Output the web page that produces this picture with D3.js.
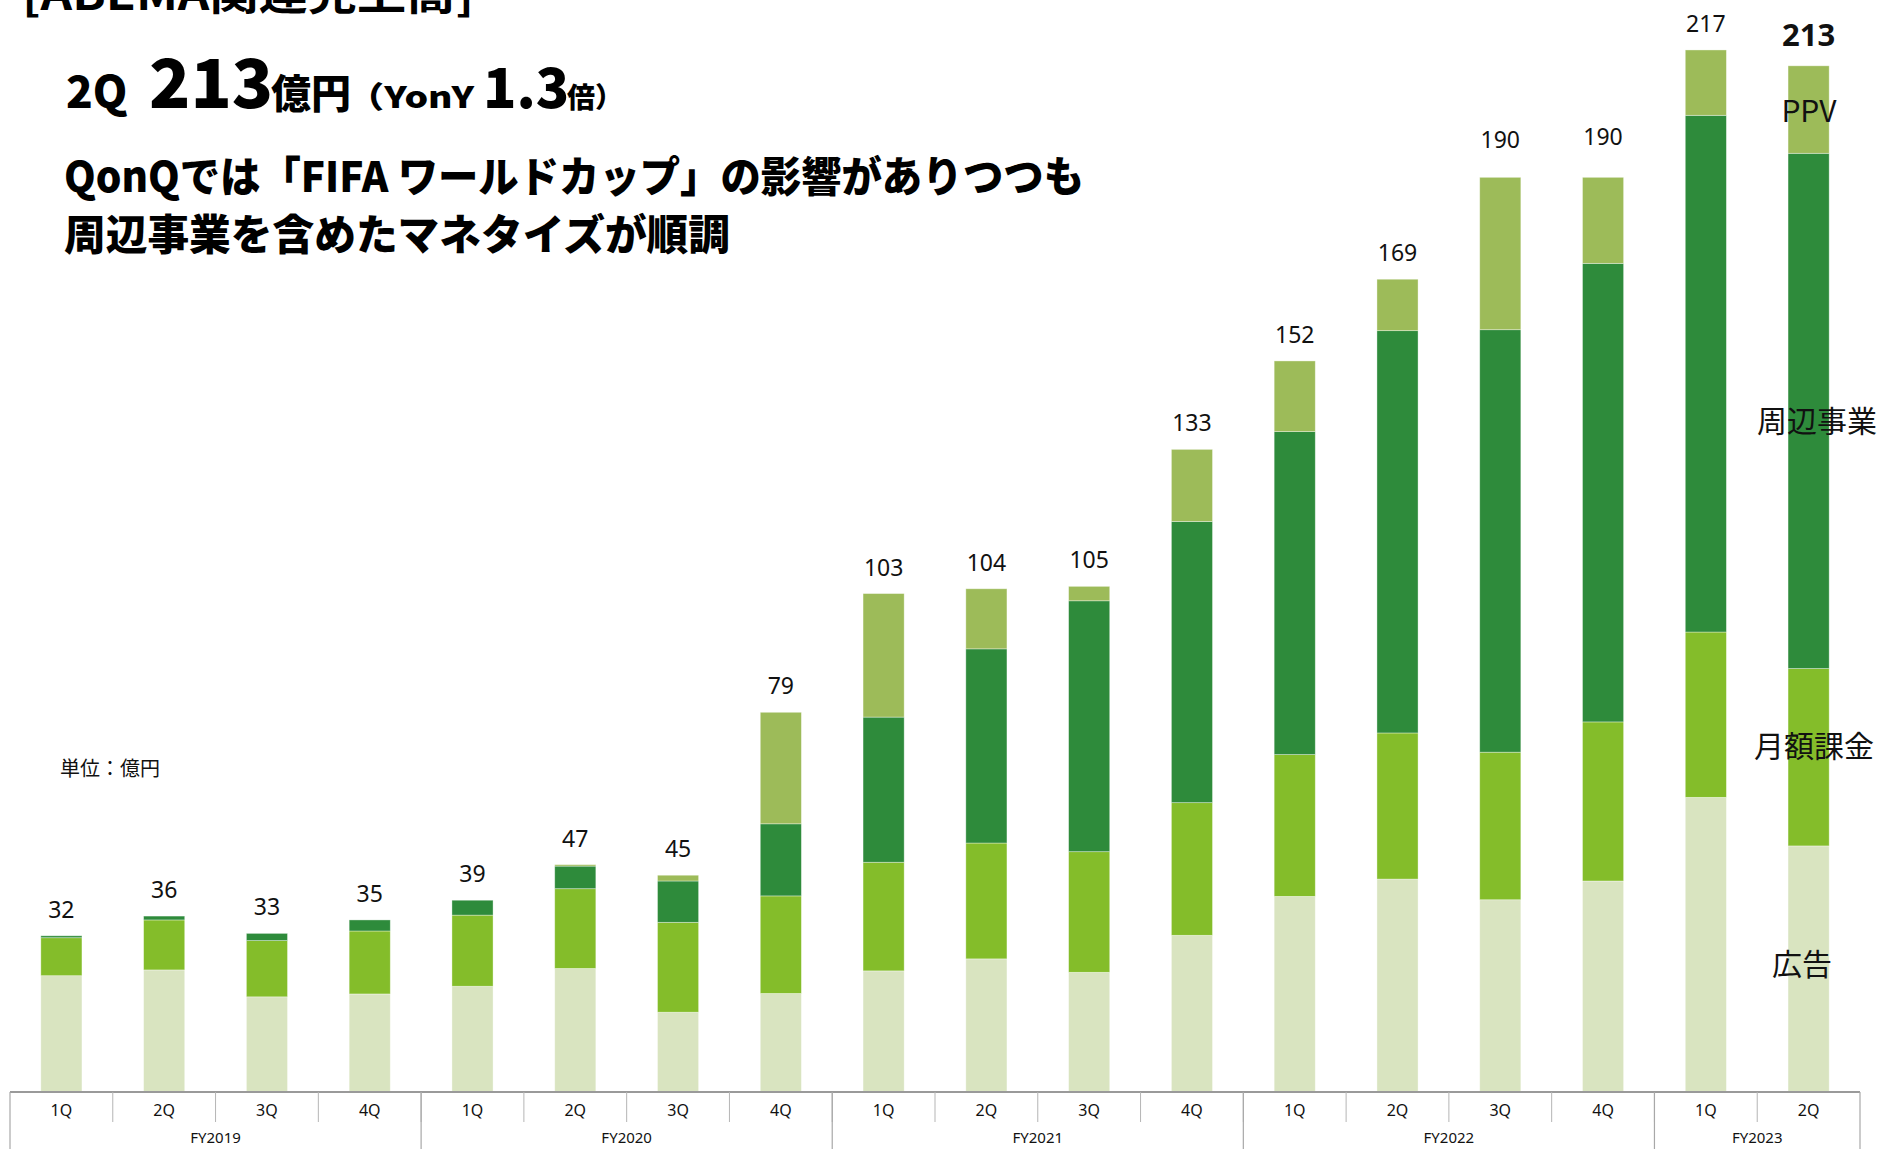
<!DOCTYPE html>
<html>
<head>
<meta charset="utf-8">
<script src="https://d3js.org/d3.v7.min.js"></script>
<style>
  body { margin: 0; background: #fff; }
  svg { display: block; }
  .jp { font-family: "Noto Sans CJK JP", "Noto Sans", sans-serif; }
  .num { font-family: "Noto Sans", "Open Sans", sans-serif; }
</style>
</head>
<body>
<div class="chart"></div>
<script>
// quarters and fiscal years
const quarters = ["1Q","2Q","3Q","4Q","1Q","2Q","3Q","4Q","1Q","2Q","3Q","4Q","1Q","2Q","3Q","4Q","1Q","2Q"];
const fiscalYears = ["FY2019","FY2020","FY2021","FY2022","FY2023"];
const quartersPerYear = [4, 4, 4, 4, 2];

// segment values (億円)
const ad         = [24.2, 25.4, 19.8, 20.4, 22.0, 25.7, 16.6, 20.5, 25.2, 27.7, 24.9, 32.6, 40.7, 44.3, 40.0, 43.9, 61.3, 51.2];
const monthly    = [7.9, 10.4, 11.7, 13.1, 14.8, 16.6, 18.7, 20.3, 22.6, 24.1, 25.1, 27.6, 29.5, 30.4, 30.7, 33.1, 34.4, 36.9];
const peripheral = [0.4, 0.8, 1.5, 2.3, 3.1, 4.7, 8.6, 15.0, 30.2, 40.4, 52.2, 58.5, 67.2, 83.7, 87.9, 95.4, 107.5, 107.2];
const ppv        = [0, 0, 0, 0, 0, 0.3, 1.2, 23.2, 25.7, 12.5, 3.0, 15.0, 14.7, 10.7, 31.7, 17.9, 13.6, 18.2];
const totals     = [32, 36, 33, 35, 39, 47, 45, 79, 103, 104, 105, 133, 152, 169, 190, 190, 217, 213];

const seriesNames = ["広告", "月額課金", "周辺事業", "PPV"];

const W = 1883, H = 1149;
const baseY = 1092, axisLeft = 10, axisRight = 1860;

const rows = quarters.map((q, i) => ({
  i: i, "広告": ad[i], "月額課金": monthly[i], "周辺事業": peripheral[i], "PPV": ppv[i]
}));

const colors = d3.scaleOrdinal()
  .domain(seriesNames)
  .range(["#d9e4c0", "#84bd2a", "#2e8b3b", "#9dbb59"]);

const x = d3.scaleBand()
  .domain(d3.range(quarters.length))
  .range([axisLeft, axisRight])
  .padding(0);

const y = d3.scaleLinear()
  .domain([0, 217])
  .range([baseY, 49]);

const svg = d3.select(".chart").append("svg")
  .attr("width", W)
  .attr("height", H);

const stacked = d3.stack().keys(seriesNames)(rows);
const bw = x.bandwidth() * 0.4;

svg.append("g").selectAll("g")
  .data(stacked)
  .join("g")
  .attr("fill", d => colors(d.key))
  .selectAll("rect")
  .data(d => d)
  .join("rect")
  .attr("x", d => x(d.data.i) + (x.bandwidth() - bw) / 2)
  .attr("y", d => y(d[1]))
  .attr("width", bw)
  .attr("height", d => Math.max(0, y(d[0]) - y(d[1])))
  .attr("stroke", "#ffffff")
  .attr("stroke-opacity", 0.45)
  .attr("stroke-width", 0.8);

// total labels (the two 190 labels sit a little higher in the original)
const lift = i => (i === 14 ? 11 : i === 15 ? 14 : 0);
svg.append("g").selectAll("text")
  .data(totals)
  .join("text")
  .attr("class", "num")
  .attr("x", (d, i) => x(i) + x.bandwidth() / 2)
  .attr("y", (d, i) => y(d3.sum(seriesNames, k => rows[i][k])) - (i === totals.length - 1 ? 20 : 18) - lift(i))
  .attr("text-anchor", "middle")
  .attr("font-size", (d, i) => i === totals.length - 1 ? 31 : 23)
  .attr("font-weight", (d, i) => i === totals.length - 1 ? 700 : 400)
  .attr("fill", "#111")
  .text(d => d);

// category axis: baseline
svg.append("line")
  .attr("x1", axisLeft).attr("x2", axisRight)
  .attr("y1", baseY).attr("y2", baseY)
  .attr("stroke", "#9a9a9a")
  .attr("stroke-width", 2);

// quarter separators
svg.append("g").selectAll("line")
  .data(d3.range(1, quarters.length))
  .join("line")
  .attr("x1", i => x(i)).attr("x2", i => x(i))
  .attr("y1", baseY).attr("y2", baseY + 30)
  .attr("stroke", "#b5b5b5")
  .attr("stroke-width", 1);

// fiscal year boundaries (full height)
let cum = 0;
const yearBounds = [0];
quartersPerYear.forEach(n => { cum += n; yearBounds.push(cum); });
svg.append("g").selectAll("line")
  .data(yearBounds)
  .join("line")
  .attr("x1", b => b === quarters.length ? axisRight : x(b))
  .attr("x2", b => b === quarters.length ? axisRight : x(b))
  .attr("y1", baseY).attr("y2", H)
  .attr("stroke", "#a8a8a8")
  .attr("stroke-width", 1.2);

// quarter tick labels
const xAxis = d3.axisBottom(x)
  .tickSize(0)
  .tickPadding(13)
  .tickFormat(i => quarters[i]);

const gx = svg.append("g")
  .attr("transform", `translate(0, ${baseY})`)
  .call(xAxis);
gx.select(".domain").remove();
gx.selectAll("text")
  .attr("font-family", "Noto Sans, sans-serif")
  .attr("font-size", 16)
  .attr("fill", "#111");

// fiscal year labels
svg.append("g").selectAll("text")
  .data(fiscalYears)
  .join("text")
  .attr("class", "num")
  .attr("x", (d, j) => {
    const a = yearBounds[j], b = yearBounds[j + 1];
    const x0 = x(a), x1 = b === quarters.length ? axisRight : x(b);
    return (x0 + x1) / 2;
  })
  .attr("y", 1143)
  .attr("text-anchor", "middle")
  .attr("font-size", 15)
  .attr("fill", "#111")
  .text(d => d);

// series labels next to last bar
const legendPos = { "PPV": [1809, 122], "周辺事業": [1817, 432], "月額課金": [1814, 757], "広告": [1802, 975] };
svg.append("g").selectAll("text")
  .data(seriesNames)
  .join("text")
  .attr("class", "jp")
  .attr("x", d => legendPos[d][0])
  .attr("y", d => legendPos[d][1])
  .attr("text-anchor", "middle")
  .attr("font-size", 30)
  .attr("fill", "#111")
  .text(d => d);

// unit note
svg.append("text")
  .attr("class", "jp")
  .attr("x", 60)
  .attr("y", 776)
  .attr("font-size", 20)
  .attr("fill", "#111")
  .text("単位：億円");

// titles
svg.append("text")
  .attr("class", "jp")
  .attr("x", 22)
  .attr("y", 10)
  .attr("font-size", 44)
  .attr("font-weight", 700)
  .attr("textLength", 452)
  .attr("lengthAdjust", "spacingAndGlyphs")
  .text("[ABEMA関連売上高]");

const headParts = [
  { t: "2Q", x: 66, size: 44 },
  { t: "213", x: 149, size: 68 },
  { t: "億円", x: 271, size: 40 },
  { t: "（YonY", x: 347, size: 30, len: 127 },
  { t: "1.3", x: 483, size: 55 },
  { t: "倍）", x: 567, size: 28 }
];
svg.append("g").selectAll("text")
  .data(headParts)
  .join("text")
  .attr("class", "jp")
  .attr("x", d => d.x)
  .attr("y", 108)
  .attr("font-size", d => d.size)
  .attr("font-weight", 900)
  .attr("fill", "#000")
  .attr("textLength", d => d.len || null)
  .attr("lengthAdjust", "spacingAndGlyphs")
  .text(d => d.t);

svg.append("text")
  .attr("class", "jp")
  .attr("x", 64).attr("y", 192)
  .attr("font-size", 42)
  .attr("font-weight", 900)
  .attr("textLength", 1020)
  .attr("lengthAdjust", "spacingAndGlyphs")
  .text("QonQでは「FIFA ワールドカップ」の影響がありつつも");

svg.append("text")
  .attr("class", "jp")
  .attr("x", 64).attr("y", 250)
  .attr("font-size", 42)
  .attr("font-weight", 900)
  .attr("textLength", 666)
  .attr("lengthAdjust", "spacingAndGlyphs")
  .text("周辺事業を含めたマネタイズが順調");
</script>
</body>
</html>
